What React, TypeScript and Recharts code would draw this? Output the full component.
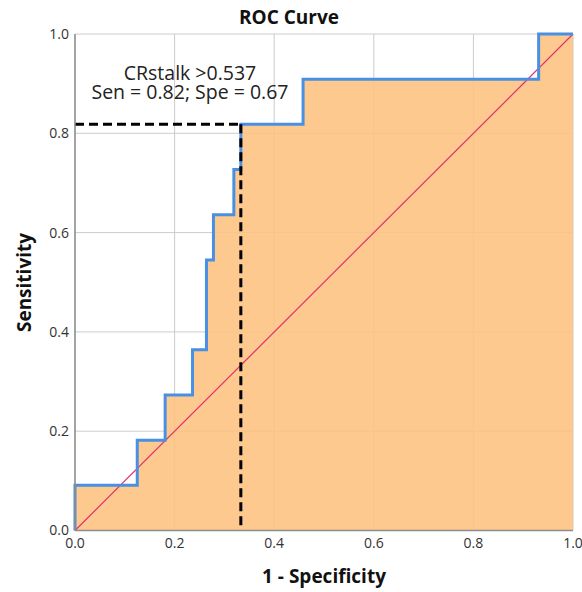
import React from 'react'
import { ComposedChart, Area, Line, XAxis, YAxis, CartesianGrid, ReferenceLine } from 'recharts'

// ROC corners (1 - specificity, sensitivity), drawn as a step-after curve
const fpr = [0, 0, 0.125, 0.181, 0.236, 0.264, 0.278, 0.319, 0.333, 0.458, 0.931, 1]
const tpr = [0, 0.091, 0.182, 0.273, 0.364, 0.545, 0.636, 0.727, 0.818, 0.909, 1, 1]
const chance = [0, 1]
const ticks = [0, 0.2, 0.4, 0.6, 0.8, 1]
const cutoff = { fpr: 0.333, tpr: 0.818 }
const annotation = ['CRstalk >0.537', 'Sen = 0.82; Spe = 0.67']

const W = 582
const H = 592
const font = '"Open Sans", sans-serif'

function fmt(v: number) { return v.toFixed(1) }

export default function App() {
  const roc = fpr.map((x, i) => ({ x, y: tpr[i] }))
  const diag = chance.map(v => ({ x: v, y: v }))
  const tick = { fontSize: 14, fill: '#333', fontFamily: font }
  const axisLine = { stroke: '#8c8c8c', strokeWidth: 1.5 }
  const dash = { stroke: '#000', strokeWidth: 3, strokeDasharray: '9 5' }

  return (
    <div style={{ position: 'absolute', left: 0, top: 0, width: W, height: H, background: '#fff' }}>
      <ComposedChart width={W} height={H} data={roc} margin={{ top: 34, right: 9, left: 0, bottom: 0 }}>
        <CartesianGrid stroke="#cccccc" strokeWidth={1} />
        <XAxis type="number" dataKey="x" domain={[0, 1]} ticks={ticks} tickFormatter={fmt}
          height={61.5} tickLine={false} tickSize={6} axisLine={axisLine} tick={tick} />
        <YAxis type="number" domain={[0, 1]} ticks={ticks} tickFormatter={fmt}
          width={75} tickLine={false} tickSize={4} axisLine={axisLine} tick={tick} />
        <Area type="stepAfter" dataKey="y" stroke="none" fill="#FDC180" fillOpacity={0.88}
          isAnimationActive={false} />
        <Line data={diag} type="linear" dataKey="y" stroke="#E0336F" strokeWidth={1.2} dot={false}
          isAnimationActive={false} />
        <Line type="stepAfter" dataKey="y" stroke="#4A90E2" strokeWidth={3} dot={false}
          isAnimationActive={false} />
        <ReferenceLine segment={[{ x: 0, y: cutoff.tpr }, { x: cutoff.fpr, y: cutoff.tpr }]} {...dash} />
        <ReferenceLine segment={[{ x: cutoff.fpr, y: cutoff.tpr }, { x: cutoff.fpr, y: 0 }]} {...dash} />
      </ComposedChart>
      <svg width={W} height={H} style={{ position: 'absolute', left: 0, top: 0, pointerEvents: 'none' }}>
        <text x={289} y={24} textAnchor="middle" fontFamily={font} fontWeight="bold" fontSize={19} fill="#111">
          ROC Curve
        </text>
        <text x={190} y={80} textAnchor="middle" fontFamily={font} fontSize={19.5} fill="#222">{annotation[0]}</text>
        <text x={190} y={99} textAnchor="middle" fontFamily={font} fontSize={19.5} fill="#222">{annotation[1]}</text>
        <text x={324} y={583} textAnchor="middle" fontFamily={font} fontWeight="bold" fontSize={19} fill="#111">
          1 - Specificity
        </text>
        <text transform="translate(31,282.5) rotate(-90)" textAnchor="middle" fontFamily={font}
          fontWeight="bold" fontSize={19} fill="#111">
          Sensitivity
        </text>
      </svg>
    </div>
  )
}
